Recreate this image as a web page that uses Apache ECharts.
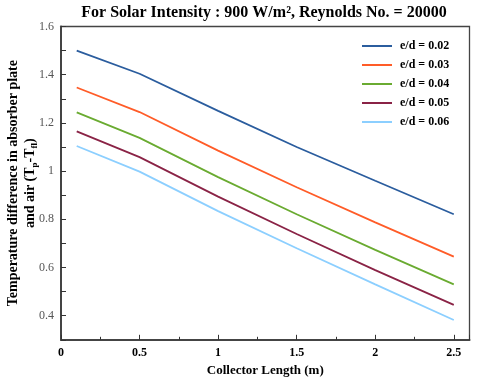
<!DOCTYPE html>
<html>
<head>
<meta charset="utf-8">
<script src="https://cdn.jsdelivr.net/npm/echarts@6/dist/echarts.min.js"></script>
<style>
  html, body { margin: 0; padding: 0; background: #fff; }
  #chart { width: 480px; height: 381px; }
</style>
</head>
<body>
<div id="chart"></div>
<script>
// collector length (m) and temperature difference per e/d
const lengths = [0.1, 0.5, 1, 1.5, 2, 2.5];
const names = ['e/d = 0.02', 'e/d = 0.03', 'e/d = 0.04', 'e/d = 0.05', 'e/d = 0.06'];
const ed002 = [1.50, 1.404, 1.25, 1.10, 0.96, 0.821];
const ed003 = [1.347, 1.245, 1.085, 0.933, 0.787, 0.645];
const ed004 = [1.244, 1.138, 0.975, 0.821, 0.673, 0.530];
const ed005 = [1.165, 1.058, 0.894, 0.739, 0.589, 0.445];
const ed006 = [1.104, 0.998, 0.834, 0.680, 0.530, 0.382];
const colors = ['#2b5d9e', '#ff5c28', '#6aab31', '#8a2346', '#8ccfff'];

const serif = '"Liberation Serif", "Times New Roman", serif';
const pair = ys => lengths.map((x, i) => [x, ys[i]]);

const chart = echarts.init(document.getElementById('chart'));
chart.setOption({
    animation: false,
    title: {
        text: 'For Solar Intensity : 900 W/m², Reynolds No. = 20000',
        left: 259, top: 0, textAlign: 'center',
        textStyle: { fontFamily: serif, fontWeight: 'bold', fontSize: 16, color: '#000' }
    },
    legend: {
        orient: 'vertical', left: 357, top: 34,
        icon: 'rect', itemWidth: 30, itemHeight: 2, itemGap: 5,
        data: names,
        textStyle: { fontFamily: serif, fontWeight: 'bold', fontSize: 12, color: '#000', lineHeight: 14, padding: [0, 0, 0, 3] }
    },
    grid: {
        left: 61, right: 10.5, top: 26.5, bottom: 41.2,
        outerBoundsMode: 'none',
        show: true, borderColor: '#444', borderWidth: 1.3
    },
    xAxis: {
        type: 'value', min: 0, max: 2.6, interval: 0.5,
        name: 'Collector Length (m)', nameLocation: 'middle', nameGap: 24,
        nameTextStyle: { fontFamily: serif, fontWeight: 'bold', fontSize: 13, color: '#000' },
        axisLine: { lineStyle: { color: '#444', width: 2 } },
        axisTick: { inside: true, length: 5, lineStyle: { color: '#333' } },
        minorTick: { show: true, splitNumber: 2, length: 3, lineStyle: { color: '#333' } },
        splitLine: { show: false },
        axisLabel: { showMaxLabel: false, margin: 7, fontFamily: serif, fontWeight: 'bold', fontSize: 12, color: '#000' }
    },
    yAxis: {
        type: 'value', min: 0.3, max: 1.6, interval: 0.1,
        name: 'Temperature difference in absorber plate\nand air (T{sub|p}-T{sub|fl})',
        nameLocation: 'middle', nameGap: 22, nameRotate: 90, nameMoveOverlap: false,
        nameTextStyle: {
            fontFamily: serif, fontWeight: 'bold', fontSize: 14, color: '#000', lineHeight: 17,
            rich: {
                sub: { fontFamily: serif, fontWeight: 'bold', fontSize: 9, color: '#000', verticalAlign: 'bottom', lineHeight: 17, padding: [5, 0, 0, 0] }
            }
        },
        axisLine: { lineStyle: { color: '#444', width: 2 } },
        axisTick: { inside: true, length: 5, lineStyle: { color: '#333' } },
        splitLine: { show: false },
        axisLabel: {
            margin: 7, fontFamily: serif, fontSize: 12, color: '#555',
            formatter: v => {
                const t = Math.round(v * 10);
                return t % 2 === 0 ? String(t / 10) : '';
            }
        }
    },
    series: [ed002, ed003, ed004, ed005, ed006].map((ys, i) => ({
        name: names[i],
        type: 'line',
        data: pair(ys),
        symbol: 'none',
        itemStyle: { color: colors[i] },
        lineStyle: { color: colors[i], width: 1.8 }
    }))
});
</script>
</body>
</html>
